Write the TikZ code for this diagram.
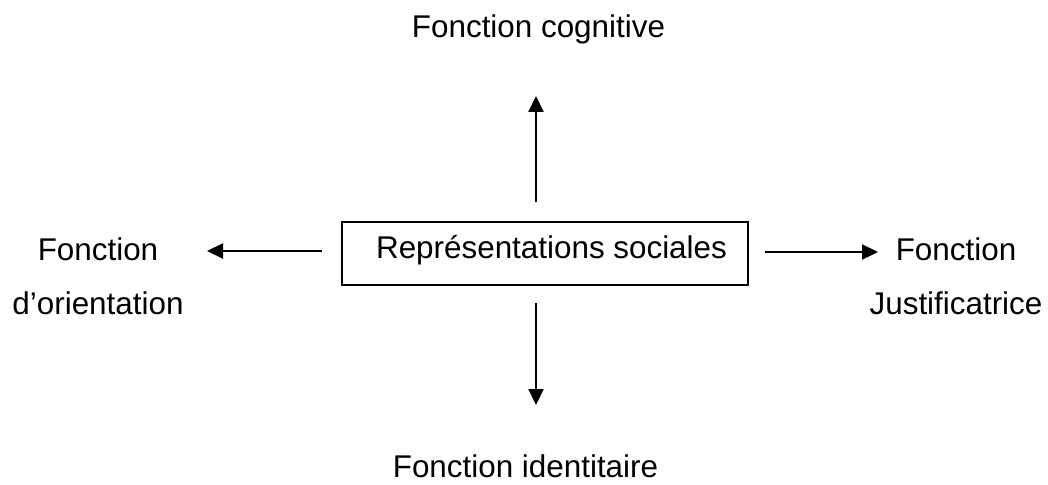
\documentclass[tikz,border=0pt]{standalone}
\usepackage{fontspec}
\setmainfont{Liberation Sans}
\usetikzlibrary{arrows.meta}
\begin{document}
\begin{tikzpicture}[x=1pt,y=-1pt,
  lbl/.style={font=\fontsize{31.4}{54}\selectfont, inner sep=0pt, anchor=base},
  arr/.style={line width=2.2pt, -{Triangle[length=16pt,width=15pt]}}]
\useasboundingbox (0,0) rectangle (1048,484);
\node[draw, line width=1.6pt, minimum width=406pt, text height=36pt, text depth=27pt, inner ysep=0pt, inner xsep=0pt, anchor=base, font=\fontsize{31.4}{36}\selectfont] (rs) at (545,258) {\hspace*{13pt}Représentations sociales};
\node[lbl] (cog) at (538.5,38) {Fonction cognitive};
\node[lbl] (ide) at (525.5,477) {Fonction identitaire};
\node[lbl, align=center] (ori) at (98,314) {Fonction\\d’orientation};
\node[lbl, align=center] (jus) at (956,314) {Fonction\\Justificatrice};
\coordinate (upS) at (536,202);
\coordinate (upT) at (536,96);
\coordinate (dnS) at (536,303);
\coordinate (dnT) at (536,405);
\coordinate (lS) at (322,251);
\coordinate (lT) at (207,251);
\coordinate (rS) at (765,252);
\coordinate (rT) at (878,252);
\draw[arr] (upS) -- (upT);
\draw[arr] (dnS) -- (dnT);
\draw[arr] (lS) -- (lT);
\draw[arr] (rS) -- (rT);
\end{tikzpicture}
\end{document}
